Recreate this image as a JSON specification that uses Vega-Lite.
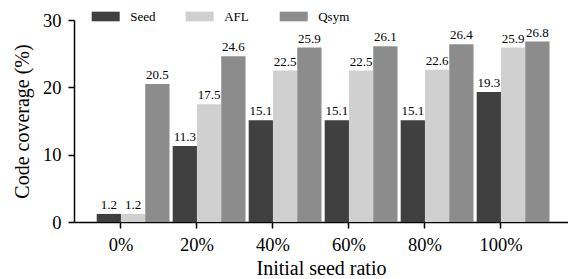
{
  "$schema": "https://vega.github.io/schema/vega-lite/v6.json",
  "autosize": {"type": "none"},
  "padding": {"left": 74, "top": 20, "right": 0, "bottom": 57},
  "width": 494,
  "height": 202,
  "background": "white",
  "config": {
    "view": {"stroke": null},
    "font": "Liberation Serif",
    "style": {"guide-label": {"font": "Liberation Serif"}, "guide-title": {"font": "Liberation Serif"}}
  },
  "data": {
    "values": [
      {"ratio": "0%", "tool": "Seed", "value": 1.2},
      {"ratio": "0%", "tool": "AFL", "value": 1.2},
      {"ratio": "0%", "tool": "Qsym", "value": 20.5},
      {"ratio": "20%", "tool": "Seed", "value": 11.3},
      {"ratio": "20%", "tool": "AFL", "value": 17.5},
      {"ratio": "20%", "tool": "Qsym", "value": 24.6},
      {"ratio": "40%", "tool": "Seed", "value": 15.1},
      {"ratio": "40%", "tool": "AFL", "value": 22.5},
      {"ratio": "40%", "tool": "Qsym", "value": 25.9},
      {"ratio": "60%", "tool": "Seed", "value": 15.1},
      {"ratio": "60%", "tool": "AFL", "value": 22.5},
      {"ratio": "60%", "tool": "Qsym", "value": 26.1},
      {"ratio": "80%", "tool": "Seed", "value": 15.1},
      {"ratio": "80%", "tool": "AFL", "value": 22.6},
      {"ratio": "80%", "tool": "Qsym", "value": 26.4},
      {"ratio": "100%", "tool": "Seed", "value": 19.3},
      {"ratio": "100%", "tool": "AFL", "value": 25.9},
      {"ratio": "100%", "tool": "Qsym", "value": 26.8}
    ]
  },
  "encoding": {
    "x": {
      "field": "ratio", "type": "nominal",
      "sort": ["0%", "20%", "40%", "60%", "80%", "100%"],
      "scale": {"paddingInner": 0.042, "paddingOuter": 0.271, "align": 0.551},
      "axis": {"title": "Initial seed ratio", "labelAngle": 0, "bandPosition": 0.3333, "labelOffset": -12.13, "labelFont": "Liberation Serif", "titleFont": "Liberation Serif", "labelColor": "black", "titleColor": "black", "titleFontWeight": "normal", "domainColor": "black", "tickColor": "black", "labelFontSize": 18.5, "titleFontSize": 20, "tickSize": 6, "tickWidth": 1.5, "domainWidth": 1.5, "labelPadding": 7, "titlePadding": 5}
    },
    "xOffset": {"field": "tool", "type": "nominal", "sort": ["Seed", "AFL", "Qsym"], "scale": {"paddingInner": 0, "paddingOuter": 0}},
    "y": {
      "field": "value", "type": "quantitative",
      "scale": {"domain": [0, 30], "nice": false},
      "axis": {"title": "Code coverage (%)", "values": [0, 10, 20, 30], "grid": false, "labelFont": "Liberation Serif", "titleFont": "Liberation Serif", "labelColor": "black", "titleColor": "black", "titleFontWeight": "normal", "domainColor": "black", "tickColor": "black", "labelFontSize": 18.5, "titleFontSize": 20, "tickSize": 6, "tickWidth": 1.5, "domainWidth": 1.5, "labelPadding": 7, "titlePadding": 10}
    }
  },
  "layer": [
    {
      "mark": {"type": "bar"},
      "encoding": {
        "color": {
          "field": "tool", "type": "nominal",
          "sort": ["Seed", "AFL", "Qsym"],
          "scale": {"domain": ["Seed", "AFL", "Qsym"], "range": ["#404040", "#d0d0d0", "#8c8c8c"]},
          "legend": {
            "title": null, "orient": "none", "direction": "horizontal",
            "legendX": 17.7, "legendY": -17.5, "padding": 0,
            "symbolType": "M-1,-0.345H1V0.345H-1Z", "symbolSize": 784, "symbolStrokeWidth": 0,
            "labelFont": "Liberation Serif", "labelFontSize": 13, "labelColor": "black", "labelOffset": 10.5,
            "gridAlign": "all", "columnPadding": 24
          }
        }
      }
    },
    {
      "mark": {"type": "text", "baseline": "bottom", "dy": -2, "fontSize": 13, "font": "Liberation Serif", "color": "black"},
      "encoding": {
        "text": {"field": "value", "type": "quantitative", "format": ".1f"}
      }
    }
  ]
}
